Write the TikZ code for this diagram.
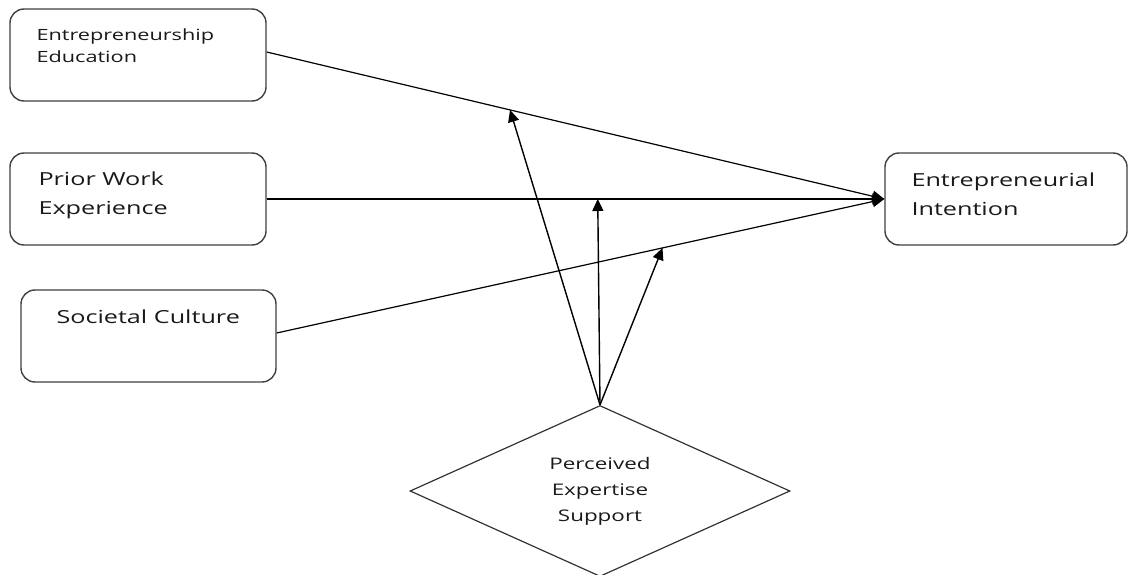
\documentclass[tikz,border=0pt]{standalone}
\usepackage{fontspec}
\setmainfont[FakeStretch=1.4]{Open Sans}
\usetikzlibrary{shapes.geometric,arrows.meta,calc}
\begin{document}
\begin{tikzpicture}[x=1pt,y=-1pt,
  box/.style={draw=black!75, line width=1.4pt, rounded corners=14pt, minimum width=256pt, minimum height=92pt, inner sep=0pt},
  lbl/.style={anchor=north west, align=left, inner sep=0pt, text=black!90, font=\fontsize{18}{29}\selectfont},
  smalllbl/.style={lbl, font=\fontsize{15.5}{22}\selectfont},
  link/.style={line width=1.2pt, -{Triangle[length=12pt,width=11pt]}},
  modlink/.style={link, line width=1.4pt}
]
\useasboundingbox (0,0) rectangle (1128,575);
\node[box] (ee) at (138,55) {};
\node[box] (pwe) at (138,199) {};
\node[box, minimum width=255pt] (sc) at (148.5,336) {};
\node[box, minimum width=242pt] (ei) at (1006,199) {};
\node[draw=black!80, line width=1.2pt, shape=diamond, minimum width=380pt, minimum height=171pt, inner sep=0pt, align=center, text=black!90, font=\fontsize{16}{26}\selectfont] (pes) at (600,491) {Perceived\\Expertise\\Support};

\node[smalllbl] (eet) at ($(ee.north west)+(27,20)$) {Entrepreneurship\\Education};
\node[lbl] (pwet) at ($(pwe.north west)+(29,19)$) {Prior Work\\Experience};
\node[lbl] (sct) at ($(sc.north west)+(36,20)$) {Societal Culture};
\node[lbl] (eit) at ($(ei.north west)+(27,20)$) {Entrepreneurial\\Intention};

\coordinate (eeout) at ($(ee.east)+(0,-3)$);
\coordinate (scout) at ($(sc.east)+(0,-3)$);
\draw[link] (eeout) -- (ei.west) coordinate[pos=0.394] (m1);
\draw[link] (pwe.east) -- (ei.west) coordinate[pos=0.536] (m2);
\draw[link] (scout) -- (ei.west) coordinate[pos=0.635] (m3);

\draw[modlink] (pes.north) -- (m1);
\draw[modlink] (pes.north) -- (m2);
\draw[modlink] (pes.north) -- (m3);
\end{tikzpicture}
\end{document}
